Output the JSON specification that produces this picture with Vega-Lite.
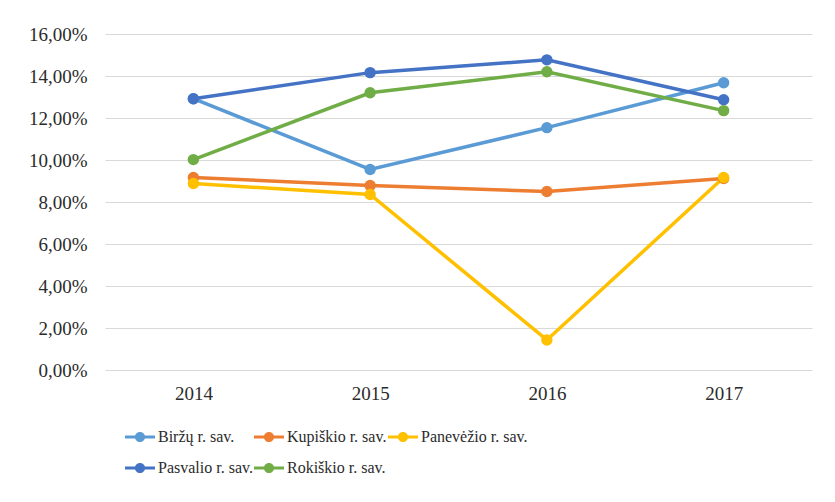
{
  "$schema": "https://vega.github.io/schema/vega-lite/v6.json",
  "width": 707,
  "height": 336,
  "autosize": {"type": "none"},
  "padding": {"left": 105, "top": 34, "right": 23, "bottom": 132},
  "background": "white",
  "config": {
    "locale": {"number": {"decimal": ",", "thousands": " ", "grouping": [3], "currency": ["", " €"]}},
    "view": {"stroke": null},
    "font": "'Liberation Serif', 'Times New Roman', serif",
    "axis": {"labelFont": "'Liberation Serif', 'Times New Roman', serif"},
    "legend": {"labelFont": "'Liberation Serif', 'Times New Roman', serif"}
  },
  "data": {
    "values": [
      {"year": "2014", "region": "Biržų r. sav.", "value": 0.1292},
      {"year": "2015", "region": "Biržų r. sav.", "value": 0.0955},
      {"year": "2016", "region": "Biržų r. sav.", "value": 0.1154},
      {"year": "2017", "region": "Biržų r. sav.", "value": 0.1368},
      {"year": "2014", "region": "Kupiškio r. sav.", "value": 0.0917},
      {"year": "2015", "region": "Kupiškio r. sav.", "value": 0.0879},
      {"year": "2016", "region": "Kupiškio r. sav.", "value": 0.0850},
      {"year": "2017", "region": "Kupiškio r. sav.", "value": 0.0912},
      {"year": "2014", "region": "Panevėžio r. sav.", "value": 0.0888},
      {"year": "2015", "region": "Panevėžio r. sav.", "value": 0.0836},
      {"year": "2016", "region": "Panevėžio r. sav.", "value": 0.0143},
      {"year": "2017", "region": "Panevėžio r. sav.", "value": 0.0917},
      {"year": "2014", "region": "Pasvalio r. sav.", "value": 0.1292},
      {"year": "2015", "region": "Pasvalio r. sav.", "value": 0.1416},
      {"year": "2016", "region": "Pasvalio r. sav.", "value": 0.1477},
      {"year": "2017", "region": "Pasvalio r. sav.", "value": 0.1287},
      {"year": "2014", "region": "Rokiškio r. sav.", "value": 0.1002},
      {"year": "2015", "region": "Rokiškio r. sav.", "value": 0.1320},
      {"year": "2016", "region": "Rokiškio r. sav.", "value": 0.1420},
      {"year": "2017", "region": "Rokiškio r. sav.", "value": 0.1235}
    ]
  },
  "mark": {"type": "line", "strokeWidth": 3.5, "point": {"filled": true, "size": 130, "opacity": 1}},
  "encoding": {
    "x": {
      "field": "year", "type": "ordinal", "title": null,
      "scale": {"type": "point", "padding": 0.5},
      "axis": {"labelAngle": 0, "domain": false, "ticks": false, "grid": false, "labelFontSize": 19, "labelColor": "#2b2b2b", "labelPadding": 14}
    },
    "y": {
      "field": "value", "type": "quantitative", "title": null,
      "scale": {"domain": [0, 0.16], "nice": false},
      "axis": {"format": ".2%", "values": [0, 0.02, 0.04, 0.06, 0.08, 0.1, 0.12, 0.14, 0.16], "domain": false, "ticks": false, "gridColor": "#d9d9d9", "gridWidth": 1, "labelFontSize": 19, "labelColor": "#2b2b2b", "labelPadding": 18}
    },
    "color": {
      "field": "region", "type": "nominal", "title": null,
      "scale": {
        "domain": ["Biržų r. sav.", "Kupiškio r. sav.", "Panevėžio r. sav.", "Pasvalio r. sav.", "Rokiškio r. sav."],
        "range": ["#5B9BD5", "#ED7D31", "#FFC000", "#4472C4", "#70AD47"]
      },
      "legend": {
        "orient": "none", "legendX": 20, "legendY": 388,
        "direction": "horizontal", "columns": 3,
        "symbolType": "M-1,-0.1 L-0.3,-0.1 L-0.3,0.1 L-1,0.1 Z M0.3,-0.1 L1,-0.1 L1,0.1 L0.3,0.1 Z M-0.34,0 A0.34,0.34 0 1,1 0.34,0 A0.34,0.34 0 1,1 -0.34,0 Z",
        "symbolSize": 900, "symbolStrokeWidth": 0, "symbolOpacity": 1,
        "labelFontSize": 16, "labelColor": "#2b2b2b", "labelOffset": 3,
        "columnPadding": 1, "rowPadding": 8, "padding": 0
      }
    }
  }
}
